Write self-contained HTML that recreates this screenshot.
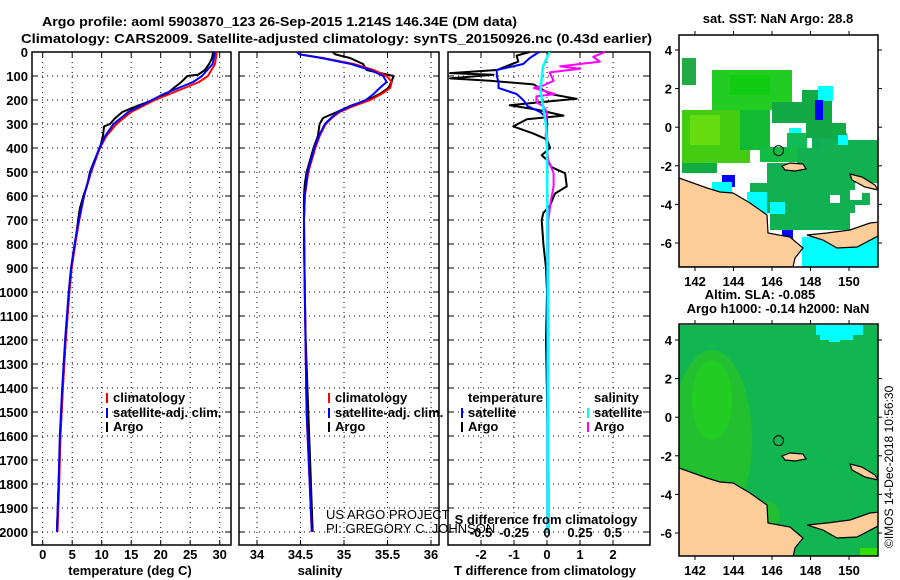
<!DOCTYPE html>
<html><head><meta charset="utf-8"><style>
body{margin:0;background:#fff}
svg{display:block;font-family:"Liberation Sans",Arial,sans-serif}
.b{font-weight:bold;font-size:13px}
</style></head><body>
<svg id="fig" width="900" height="580" viewBox="0 0 900 580" xmlns="http://www.w3.org/2000/svg">
<text x="42" y="26" class="b" textLength="475" lengthAdjust="spacingAndGlyphs">Argo profile: aoml 5903870_123 26-Sep-2015 1.214S 146.34E (DM data)</text>
<text x="21" y="43" class="b" textLength="631" lengthAdjust="spacingAndGlyphs">Climatology: CARS2009. Satellite-adjusted climatology: synTS_20150926.nc (0.43d earlier)</text>
<g id="plots"></g>
<g id="maps"></g>
<text transform="translate(893,548) rotate(-90)" font-size="12">©IMOS 14-Dec-2018 10:56:30</text>
</svg>
<script>
// ---------- data ----------
const argoTDepth=[0,25,50,75,95,100,125,150,175,200,225,250,275,300,310,350,400,450,500,550,600,650,700,800,900,1000,1200,1400,1600,1800,2000];
const argoT=[28.9,28.7,28.2,27.5,26.3,24.5,23.5,22.2,21,18.8,16,13.5,12.3,11.4,10.4,10.2,9.7,8.8,8.0,7.6,6.9,6.3,6.0,5.5,4.9,4.5,3.9,3.4,3.0,2.7,2.4];
const climTDepth=[0,50,100,125,150,175,200,250,300,350,400,500,600,700,800,900,1000,1200,1400,1600,1800,2000];
const climT=[29.5,29.2,28,26.5,24,21.5,19,15,12.5,10.8,9.7,8.2,7,6.2,5.5,4.9,4.5,3.9,3.4,3.0,2.8,2.5];
const satT=[29.2,28.8,27,25.5,23,20.5,18.5,14.5,12,10.6,9.6,8.1,7,6.1,5.4,4.8,4.4,3.8,3.3,2.9,2.7,2.4];
const argoSDepth=[0,10,25,50,75,100,120,150,175,200,225,250,275,300,350,400,450,500,550,600,800,1000,1200,1600,2000];
const argoS=[34.87,34.9,35.07,35.22,35.26,35.57,35.55,35.51,35.41,35.27,35.07,34.92,34.76,34.72,34.70,34.65,34.61,34.57,34.55,34.54,34.54,34.55,34.56,34.6,34.64];
const climSDepth=[0,10,25,50,75,100,125,150,175,200,225,250,275,300,350,400,500,600,700,1000,1500,2000];
const climS=[34.46,34.49,34.76,35.11,35.34,35.49,35.55,35.53,35.43,35.30,35.11,34.95,34.86,34.79,34.72,34.67,34.59,34.55,34.54,34.55,34.57,34.63];
const satS=[34.46,34.49,34.74,35.08,35.3,35.45,35.49,35.41,35.34,35.25,35.08,34.93,34.85,34.78,34.71,34.66,34.58,34.55,34.54,34.55,34.57,34.63];
const dTDepth=[0,15,40,75,88,95,110,120,135,175,195,205,222,240,265,280,310,340,365,400,430,450,480,505,560,590,640,670,700,800,900,1000,1200,1500,1800,2000];
const argoDT=[-0.52,-0.92,-0.87,-1.52,-2.94,-1.62,-2.94,-1.73,-0.41,0.09,0.9,0.09,-1.13,-0.31,0.5,-0.61,-1.02,-0.41,0,0.09,-0.16,0,0.14,0.55,0.6,0.24,0.09,-0.11,-0.16,-0.11,-0.03,0,-0.03,0.01,0.04,0.04];
const satDTDepth=[0,25,50,75,100,125,150,175,200,225,250,275,300,400,1000,2000];
const satDT=[-0.24,-0.52,-0.72,-1.52,-1.52,-1.47,-1.47,-0.92,-0.72,-0.59,-0.21,0,0,0.01,0.01,0.01];
const argoDSDepth=[0,20,40,60,70,85,120,140,150,175,185,210,225,250,300,350,450,505,560,615,700,1000,2000];
const argoDS=[0.44,0.35,0.40,0.10,0.25,0.02,0.05,-0.03,-0.10,0.06,-0.08,-0.08,-0.03,0,-0.005,-0.01,0.01,0.05,0.05,0.03,0.01,0.01,0.01];
const satDSDepth=[0,60,160,225,295,365,1000,2000];
const satDS=[0.02,-0.03,-0.05,-0.03,-0.01,0,0.005,0.005];
const depthTicks=[0,100,200,300,400,500,600,700,800,900,1000,1100,1200,1300,1400,1500,1600,1700,1800,1900,2000];
const tTicks=[0,5,10,15,20,25,30];
const sTicks=[34,34.5,35,35.5,36];
const dTTicks=[-2,-1,0,1,2];
const dSTicks=[-0.5,-0.25,0,0.25,0.5];
const lonTicks=[142,144,146,148,150];
const latTicks=[4,2,0,-2,-4,-6];
const argoLon=146.34, argoLat=-1.214;

// ---------- helpers ----------
const NS="http://www.w3.org/2000/svg";
function mk(p,tag,at,txt){const e=document.createElementNS(NS,tag);for(const k in at)e.setAttribute(k,at[k]);if(txt!==undefined)e.textContent=txt;p.appendChild(e);return e;}
const yD=d=>52+d*0.24;
const plots=document.getElementById('plots');
const panels=[
 {x0:32,x1:231,name:'temperature-panel',sx:v=>42.7+v*5.9,ticks:tTicks,lab:'temperature (deg C)',lx:130},
 {x0:239,x1:439,name:'salinity-panel',sx:v=>257+(v-34)*87,ticks:sTicks,lab:'salinity',lx:320},
 {x0:448,x1:650,name:'difference-panel',sx:v=>547+v*33,ticks:dTTicks,lab:'T difference from climatology',lx:545}
];
panels.forEach((P,i)=>{
 const g=mk(plots,'g',{});
 
 
 const gridXs=P.ticks.map(P.sx);
 gridXs.forEach(x=>{const l=mk(g,'line',{x1:x,x2:x,y1:52,y2:545,stroke:'#000','stroke-width':1,'stroke-dasharray':'1,4'});
  mk(g,'line',{x1:x,x2:x,y1:545,y2:540,stroke:'#000'});mk(g,'line',{x1:x,x2:x,y1:52,y2:57,stroke:'#000'});});
 depthTicks.forEach(d=>{const y=yD(d);const l=mk(g,'line',{x1:P.x0,x2:P.x1,y1:y,y2:y,stroke:'#000','stroke-width':1,'stroke-dasharray':'1,4'});
  mk(g,'line',{x1:P.x0,x2:P.x0+6,y1:y,y2:y,stroke:'#000'});mk(g,'line',{x1:P.x1,x2:P.x1-6,y1:y,y2:y,stroke:'#000'});});
 const r=mk(g,'rect',{x:P.x0,y:52,width:P.x1-P.x0,height:493,fill:'none',stroke:'#000','stroke-width':1.5});
 
 P.ticks.forEach(v=>{const t=mk(g,'text',{x:P.sx(v),y:559,'text-anchor':'middle',class:'b'},String(v));});
 const xl=mk(g,'text',{x:P.lx,y:575,'text-anchor':'middle',class:'b'},P.lab);
 
});
depthTicks.forEach(d=>{const t=mk(plots,'text',{x:28,y:yD(d)+5,'text-anchor':'end',class:'b'},String(d));});

function line(depths,vals,sx,color,w,name,clipX){
 const pts=depths.map((d,i)=>{let x=sx(vals[i]);if(clipX)x=Math.max(clipX[0],Math.min(clipX[1],x));return x.toFixed(1)+','+yD(d).toFixed(1);}).join(' ');
 const p=mk(plots,'polyline',{points:pts,fill:'none',stroke:color,'stroke-width':w,'stroke-linejoin':'round'});
 
 
}
const sxT=panels[0].sx,sxS=panels[1].sx,sxDT=panels[2].sx,sxDS=v=>547+v*132;
line(argoTDepth,argoT,sxT,'#000',2,'argo-temperature-line');
line(climTDepth,climT,sxT,'#f00',2,'climatology-temperature-line');
line(climTDepth,satT,sxT,'#00f',2,'satellite-temperature-line');
line(argoSDepth,argoS,sxS,'#000',2,'argo-salinity-line');
line(climSDepth,climS,sxS,'#f00',2,'climatology-salinity-line');
line(climSDepth,satS,sxS,'#00f',2,'satellite-salinity-line');
line(dTDepth,argoDT,sxDT,'#000',2,'argo-temperature-difference-line',[449,649]);
line(satDTDepth,satDT,sxDT,'#00f',2,'satellite-temperature-difference-line');
line(argoDSDepth,argoDS,sxDS,'#f0f',2,'argo-salinity-difference-line',[449,649]);
line(satDSDepth,satDS,sxDS,'#0ff',2.5,'satellite-salinity-difference-line');

const st=mk(plots,'text',{x:546,y:524,'text-anchor':'middle',class:'b'},'S difference from climatology');

dSTicks.forEach(v=>{const t=mk(plots,'text',{x:sxDS(v),y:537,'text-anchor':'middle',class:'b'},String(v));});

function leg(x,y,color,label,name){
 const g=mk(plots,'g',{});
 if(color)mk(g,'rect',{x:x-7,y:y-9,width:2,height:10,fill:color});
 mk(g,'text',{x:x,y:y,class:'b'},label);
}
leg(113,402,'#f00','climatology','legend-climatology-temperature');
leg(113,417,'#00f','satellite-adj. clim.','legend-satellite-temperature');
leg(113,431,'#000','Argo','legend-argo-temperature');
leg(335,402,'#f00','climatology','legend-climatology-salinity');
leg(335,417,'#00f','satellite-adj. clim.','legend-satellite-salinity');
leg(335,431,'#000','Argo','legend-argo-salinity');
leg(468,402,null,'temperature','legend-temperature-header');
leg(468,417,'#00f','satellite','legend-satellite-dt');
leg(468,431,'#000','Argo','legend-argo-dt');
leg(594,402,null,'salinity','legend-salinity-header');
leg(594,417,'#0ff','satellite','legend-satellite-ds');
leg(594,431,'#f0f','Argo','legend-argo-ds');
mk(plots,'text',{x:326,y:519,'font-size':13},'US ARGO PROJECT');
mk(plots,'text',{x:326,y:533,'font-size':13},'PI: GREGORY C. JOHNSON');

// ---------- maps ----------
const maps=document.getElementById('maps');
const lx=lon=>695+(lon-142)*19.25;
function drawMap(top,yOff,kind,titles){
 const g=mk(maps,'g',{});
 
 
 const ly=lat=>50+yOff+(4-lat)*19.3;
 const cp=mk(g,'clipPath',{id:'cp'+kind});mk(cp,'rect',{x:679,y:top,width:199,height:232});
 const c=mk(g,'g',{'clip-path':'url(#cp'+kind+')'});
 const R=(x,y,w,h,f)=>mk(c,'rect',{x:x,y:y+yOff,width:w,height:h,fill:f});
 if(kind==='sst'){
  R(682,58,14,27,'#22aa44');R(712,70,80,40,'#22cc22');R(730,75,40,20,'#11cc11');
  R(682,110,68,53,'#44cc11');R(690,115,30,30,'#66dd11');R(750,110,18,25,'#11bb44');
  R(740,110,30,40,'#11bb33');R(772,102,45,21,'#11aa44');R(802,90,30,33,'#11aa44');
  R(818,86,15,15,'#00ffff');R(815,100,8,20,'#0000ff');R(789,128,12,15,'#00ffff');
  R(682,163,35,10,'#11aa44');R(722,175,13,12,'#0000ff');R(712,182,20,12,'#00ffff');
  R(787,133,20,15,'#11bb55');R(812,133,35,15,'#11aa55');R(848,143,30,25,'#11aa55');
  R(820,140,58,40,'#11b050');R(806,123,40,15,'#11aa44');
  R(760,147,40,15,'#11bb44');R(797,148,50,25,'#11b050');R(767,163,111,20,'#11b050');
  R(750,183,105,30,'#11b050');R(770,213,80,17,'#11b050');R(845,193,25,12,'#11b050');
  R(747,192,20,22,'#00ffff');R(770,202,15,12,'#00ffff');R(782,230,11,10,'#0000ff');
  R(802,237,76,30,'#00ffff');R(850,190,12,10,'#fff');R(838,135,10,10,'#00ffff');
  R(830,195,10,8,'#fff');
 } else {
  R(679,35,199,232,'#11b650');
  mk(c,'ellipse',{cx:712,cy:yOff+150,rx:40,ry:90,fill:'#22c030'});
  mk(c,'ellipse',{cx:712,cy:yOff+110,rx:20,ry:40,fill:'#22cc22'});
  mk(c,'ellipse',{cx:760,cy:yOff+225,rx:20,ry:15,fill:'#22c030'});
  R(816,35,47,10,'#00ffff');R(820,45,33,5,'#00ffff');R(829,50,11,2,'#00ffff');
  R(860,258,18,9,'#33dd00');
 }
 const land='679,178 707,188 720,192 733,193 750,203 767,215 768,233 790,237 803,248 795,258 793,267 679,267';
 const l1=mk(c,'polygon',{points:land.split(' ').map(p=>{const [a,b]=p.split(',');return a+','+(+b+yOff);}).join(' '),fill:'#fccc99',stroke:'#000','stroke-width':1.2});
 
 const nb='807,235 827,233 850,230 870,223 880,222 880,235 857,247 837,248 823,240';
 mk(c,'polygon',{points:nb.split(' ').map(p=>{const [a,b]=p.split(',');return a+','+(+b+yOff);}).join(' '),fill:'#fccc99',stroke:'#000','stroke-width':1.2});
 mk(c,'polygon',{points:'782,166 790,163 803,164 806,169 795,171 785,170'.split(' ').map(p=>{const [a,b]=p.split(',');return a+','+(+b+yOff);}).join(' '),fill:'#fccc99',stroke:'#000','stroke-width':1.2});
 mk(c,'polygon',{points:'850,174 862,177 875,185 878,190 865,187 852,180'.split(' ').map(p=>{const [a,b]=p.split(',');return a+','+(+b+yOff);}).join(' '),fill:'#fccc99',stroke:'#000','stroke-width':1.2});
 const circ=mk(g,'circle',{cx:lx(argoLon),cy:ly(argoLat),r:5,fill:'none',stroke:'#000','stroke-width':1});
 
 mk(g,'rect',{x:679,y:top,width:199,height:232,fill:'none',stroke:'#000','stroke-width':1.5});
 lonTicks.forEach(v=>{const x=lx(v);mk(g,'line',{x1:x,x2:x,y1:top,y2:top-4,stroke:'#000'});mk(g,'line',{x1:x,x2:x,y1:top+232,y2:top+236,stroke:'#000'});
  const t=mk(g,'text',{x:x,y:top+251,'text-anchor':'middle',class:'b'},String(v));});
 latTicks.forEach(v=>{const y=ly(v);mk(g,'line',{x1:679,x2:675,y1:y,y2:y,stroke:'#000'});mk(g,'line',{x1:878,x2:882,y1:y,y2:y,stroke:'#000'});
  const t=mk(g,'text',{x:672,y:y+5,'text-anchor':'end',class:'b'},String(v));});
 titles.forEach((s,i)=>{const t=mk(g,'text',{x:i===0&&titles.length>1?760:778,y:(titles.length>1?top-25:top-12)+i*14,'text-anchor':'middle',class:'b','font-size':12},s);});
}
drawMap(35,0,'sst',['sat. SST: NaN Argo: 28.8']);
drawMap(324,290,'sla',['Altim. SLA: -0.085','Argo h1000: -0.14 h2000: NaN']);
</script>
</body></html>
